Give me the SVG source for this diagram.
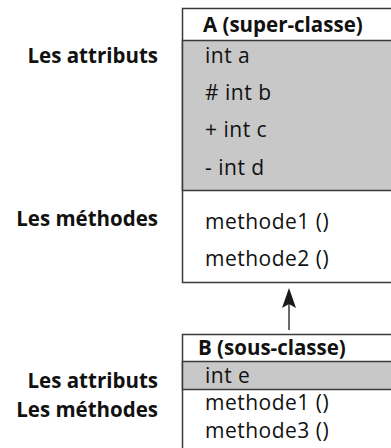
<svg xmlns="http://www.w3.org/2000/svg" width="391" height="448" viewBox="0 0 391 448">
<style>
.box{fill:#fff;stroke:#3a3a3a;stroke-width:1.5}
.attr{fill:#c8c8c8;stroke:#3a3a3a;stroke-width:1.5}
.t{font-family:"Open Sans","Noto Sans",sans-serif;font-size:21px;letter-spacing:0.5px;fill:#111}
.b{font-family:"Open Sans","Noto Sans",sans-serif;font-size:20.5px;font-weight:bold;fill:#111}
.lbl{font-family:"Open Sans","Noto Sans",sans-serif;font-size:20.5px;font-weight:bold;fill:#111;text-anchor:end}
</style>
<g id="labels">
<text class="lbl" x="158" y="63">Les attributs</text>
<text class="lbl" x="158" y="226">Les méthodes</text>
<text class="lbl" x="158" y="388">Les attributs</text>
<text class="lbl" x="158" y="417">Les méthodes</text>
</g>
<g id="classA">
<rect class="box" x="182.5" y="8.5" width="210" height="274"/>
<rect class="attr" x="182.5" y="40.5" width="210" height="150"/>
<text class="b" x="203" y="32">A (super-classe)</text>
<text class="t" x="205" y="63">int a</text>
<text class="t" x="205" y="100"># int b</text>
<text class="t" x="205" y="137">+ int c</text>
<text class="t" x="205" y="175">- int d</text>
<text class="t" x="205" y="229">methode1 ()</text>
<text class="t" x="205" y="266">methode2 ()</text>
</g>
<g id="classB">
<rect class="box" x="182.5" y="334.5" width="210" height="120"/>
<rect class="attr" x="182.5" y="361.5" width="210" height="28"/>
<text class="b" x="198" y="355">B (sous-classe)</text>
<text class="t" x="205" y="383">int e</text>
<text class="t" x="205" y="410">methode1 ()</text>
<text class="t" x="205" y="438">methode3 ()</text>
</g>
<g id="connectors">
<line x1="289" y1="330" x2="289" y2="300" stroke="#3a3a3a" stroke-width="1.5"/>
<polygon points="289,288 282,308 289,304 296,308" fill="#1a1a1a"/>
</g>
</svg>
